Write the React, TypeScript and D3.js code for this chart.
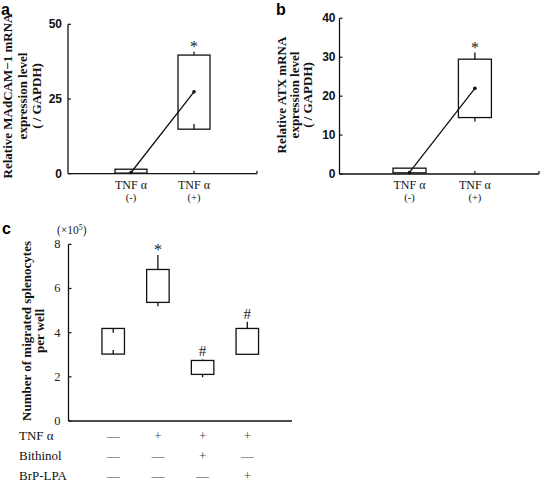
import React from "react";
import * as d3 from "d3";

// ---------- data ----------
const abCategories = ["(-)", "(+)"];
const abCategoryTitle = "TNF α";

const aBoxLow = [0.2, 14.9];
const aBoxHigh = [1.5, 39.7];
const aWhiskerLow = [0.2, 16.6];
const aWhiskerHigh = [1.5, 40.8];
const aMean = [0.4, 27.4];
const aSignif = ["", "*"];
const aTicks = [0, 25, 50];
const aYLabel = ["Relative MAdCAM−1 mRNA", "expression level", "( / GAPDH)"];

const bBoxLow = [0.3, 14.5];
const bBoxHigh = [1.5, 29.5];
const bWhiskerLow = [0.3, 13.5];
const bWhiskerHigh = [1.5, 31.2];
const bMean = [0.4, 22.0];
const bSignif = ["", "*"];
const bTicks = [0, 10, 20, 30, 40];
const bYLabel = ["Relative ATX mRNA", "expression level", "( / GAPDH)"];

const cGroups = ["g1", "g2", "g3", "g4"];
const cBoxLow = [3.03, 5.37, 2.11, 3.02];
const cBoxHigh = [4.19, 6.86, 2.74, 4.19];
const cWhiskerLow = [3.21, 5.2, 1.98, 3.02];
const cWhiskerHigh = [3.99, 7.51, 2.79, 4.49];
const cSignif = ["", "*", "#", "#"];
const cTicks = [0, 2, 4, 6, 8];
const cYLabel = ["Number of migrated splenocytes", "per well"];
const cRowLabels = ["TNF α", "Bithinol", "BrP-LPA"];
const cRowTNF = ["—", "+", "+", "+"];
const cRowBithinol = ["—", "—", "+", "—"];
const cRowBrP = ["—", "—", "—", "+"];

const SERIF = "'Liberation Serif', 'DejaVu Serif', serif";
const SANS = "'Liberation Sans', Arial, sans-serif";

type PanelProps = {
  n: number;
  x: d3.ScaleLinear<number, number>;
  y: d3.ScaleLinear<number, number>;
  lo: number[];
  hi: number[];
  wLo: number[];
  wHi: number[];
  boxW: number;
  signif: string[];
};

function Boxes({ n, x, y, lo, hi, wLo, wHi, boxW, signif }: PanelProps) {
  return (
    <g>
      {d3.range(n).map((i) => {
        const cx = x(i);
        return (
          <g key={i}>
            <rect
              x={cx - boxW / 2}
              y={y(hi[i])}
              width={boxW}
              height={Math.max(0.5, y(lo[i]) - y(hi[i]))}
              fill="white"
              stroke="#111"
              strokeWidth={1.3}
            />
            <line x1={cx} x2={cx} y1={y(hi[i])} y2={y(wHi[i])} stroke="#111" strokeWidth={1.3} />
            <line x1={cx} x2={cx} y1={y(lo[i])} y2={y(wLo[i])} stroke="#111" strokeWidth={1.3} />
            {signif[i] && (
              <text
                x={cx}
                y={y(wHi[i]) - (signif[i] === "#" ? 3 : 0)}
                textAnchor="middle"
                fontFamily={SERIF}
                fontSize={signif[i] === "#" ? 15 : 16}
                fill="#222"
              >
                {signif[i]}
              </text>
            )}
          </g>
        );
      })}
    </g>
  );
}

export default function App() {
  // Panel a
  const ax = d3.scaleLinear().domain([-1, 2]).range([68, 257]);
  const ay = d3.scaleLinear().domain([0, 50]).range([173.7, 24.3]);
  // Panel b
  const bx = d3.scaleLinear().domain([-1.07, 1.98]).range([339.5, 539]);
  const by = d3.scaleLinear().domain([0, 40]).range([174, 18.3]);
  // Panel c
  const cx = d3.scaleLinear().domain([-1, 4]).range([68.5, 292]);
  const cy = d3.scaleLinear().domain([0, 8]).range([421, 244.3]);

  const meanLine = d3
    .line<number>()
    .x((_, i) => ax(i))
    .y((d) => ay(d));
  const meanLineB = d3
    .line<number>()
    .x((_, i) => bx(i))
    .y((d) => by(d));

  const tableRows = [cRowTNF, cRowBithinol, cRowBrP];

  return (
    <svg
      width={542}
      height={483}
      style={{ position: "absolute", left: 0, top: 0, background: "white" }}
    >
      <rect width={542} height={483} fill="white" />

      {/* ---------------- Panel a ---------------- */}
      <text x={1} y={15} fontFamily={SANS} fontWeight="bold" fontSize={16}>a</text>
      {aYLabel.map((t, i) => (
        <text
          key={i}
          transform={`translate(${12 + i * 14.5},96) rotate(-90)`}
          textAnchor="middle"
          fontFamily={SERIF}
          fontWeight="bold"
          fontSize={13}
          fill="#111"
        >
          {t}
        </text>
      ))}
      <line x1={ax.range()[0]} x2={ax.range()[0]} y1={ay(50)} y2={ay(0)} stroke="#111" strokeWidth={1.3} />
      <line x1={ax.range()[0]} x2={ax.range()[1]} y1={ay(0)} y2={ay(0)} stroke="#111" strokeWidth={1.3} />
      <line x1={ax.range()[1]} x2={ax.range()[1]} y1={ay(0)} y2={ay(0) - 3} stroke="#111" strokeWidth={1.2} />
      {aTicks.map((t) => (
        <g key={t}>
          <line x1={ax.range()[0]} x2={ax.range()[0] + 3} y1={ay(t)} y2={ay(t)} stroke="#111" strokeWidth={1.2} />
          <text x={ax.range()[0] - 6} y={ay(t) + 4} textAnchor="end" fontFamily={SANS} fontWeight="bold" fontSize={12} fill="#111">
            {t}
          </text>
        </g>
      ))}
      {abCategories.map((c, i) => (
        <g key={c}>
          <line x1={ax(i)} x2={ax(i)} y1={ay(0)} y2={ay(0) - 3} stroke="#111" strokeWidth={1.2} />
          <text x={ax(i)} y={189} textAnchor="middle" fontFamily={SERIF} fontSize={12} fill="#111">{abCategoryTitle}</text>
          <text x={ax(i)} y={201} textAnchor="middle" fontFamily={SERIF} fontSize={10.5} fill="#111">{c}</text>
        </g>
      ))}
      <Boxes n={2} x={ax} y={ay} lo={aBoxLow} hi={aBoxHigh} wLo={aWhiskerLow} wHi={aWhiskerHigh} boxW={32} signif={aSignif} />
      <path d={meanLine(aMean) || ""} fill="none" stroke="#111" strokeWidth={1.3} />
      {aMean.map((m, i) => (
        <circle key={i} cx={ax(i)} cy={ay(m)} r={1.8} fill="#111" />
      ))}

      {/* ---------------- Panel b ---------------- */}
      <text x={276} y={15} fontFamily={SANS} fontWeight="bold" fontSize={16}>b</text>
      {bYLabel.map((t, i) => (
        <text
          key={i}
          transform={`translate(${286 + i * 13},95) rotate(-90)`}
          textAnchor="middle"
          fontFamily={SERIF}
          fontWeight="bold"
          fontSize={13}
          fill="#111"
        >
          {t}
        </text>
      ))}
      <line x1={bx.range()[0]} x2={bx.range()[0]} y1={by(40)} y2={by(0)} stroke="#111" strokeWidth={1.3} />
      <line x1={bx.range()[0]} x2={bx.range()[1]} y1={by(0)} y2={by(0)} stroke="#111" strokeWidth={1.3} />
      <line x1={bx.range()[1]} x2={bx.range()[1]} y1={by(0)} y2={by(0) - 3} stroke="#111" strokeWidth={1.2} />
      {bTicks.map((t) => (
        <g key={t}>
          <line x1={bx.range()[0]} x2={bx.range()[0] + 3} y1={by(t)} y2={by(t)} stroke="#111" strokeWidth={1.2} />
          <text x={bx.range()[0] - 4} y={by(t) + 4} textAnchor="end" fontFamily={SANS} fontWeight="bold" fontSize={12} fill="#111">
            {t}
          </text>
        </g>
      ))}
      {abCategories.map((c, i) => (
        <g key={c}>
          <line x1={bx(i)} x2={bx(i)} y1={by(0)} y2={by(0) - 3} stroke="#111" strokeWidth={1.2} />
          <text x={bx(i)} y={189} textAnchor="middle" fontFamily={SERIF} fontSize={12} fill="#111">{abCategoryTitle}</text>
          <text x={bx(i)} y={201} textAnchor="middle" fontFamily={SERIF} fontSize={10.5} fill="#111">{c}</text>
        </g>
      ))}
      <Boxes n={2} x={bx} y={by} lo={bBoxLow} hi={bBoxHigh} wLo={bWhiskerLow} wHi={bWhiskerHigh} boxW={33} signif={bSignif} />
      <path d={meanLineB(bMean) || ""} fill="none" stroke="#111" strokeWidth={1.3} />
      {bMean.map((m, i) => (
        <circle key={i} cx={bx(i)} cy={by(m)} r={1.8} fill="#111" />
      ))}

      {/* ---------------- Panel c ---------------- */}
      <text x={2} y={234} fontFamily={SANS} fontWeight="bold" fontSize={16}>c</text>
      <text x={57} y={234} fontFamily={SERIF} fontSize={11.5} fill="#222">
        (×10<tspan dy={-4} fontSize={8}>5</tspan>
        <tspan dy={4}>)</tspan>
      </text>
      {cYLabel.map((t, i) => (
        <text
          key={i}
          transform={`translate(${30.5 + i * 13},331) rotate(-90)`}
          textAnchor="middle"
          fontFamily={SERIF}
          fontWeight="bold"
          fontSize={13}
          fill="#111"
        >
          {t}
        </text>
      ))}
      <line x1={cx.range()[0]} x2={cx.range()[0]} y1={cy(8)} y2={cy(0)} stroke="#111" strokeWidth={1.3} />
      <line x1={cx.range()[0]} x2={cx.range()[1]} y1={cy(0)} y2={cy(0)} stroke="#111" strokeWidth={1.3} />
      {cTicks.map((t) => (
        <g key={t}>
          <line x1={cx.range()[0]} x2={cx.range()[0] + 3} y1={cy(t)} y2={cy(t)} stroke="#111" strokeWidth={1.2} />
          <text x={cx.range()[0] - 8} y={cy(t) + 4} textAnchor="end" fontFamily={SERIF} fontSize={12.5} fill="#222">
            {t}
          </text>
        </g>
      ))}
      <Boxes n={cGroups.length} x={cx} y={cy} lo={cBoxLow} hi={cBoxHigh} wLo={cWhiskerLow} wHi={cWhiskerHigh} boxW={22.5} signif={cSignif} />
      {cRowLabels.map((lab, r) => (
        <g key={lab}>
          <text x={19} y={440 + r * 19.8} fontFamily={SERIF} fontSize={13} fill="#111">{lab}</text>
          {tableRows[r].map((s, i) => (
            <text key={i} x={cx(i)} y={440 + r * 19.8} textAnchor="middle" fontFamily={SERIF} fontSize={13} fill="#444">
              {s}
            </text>
          ))}
        </g>
      ))}
    </svg>
  );
}
